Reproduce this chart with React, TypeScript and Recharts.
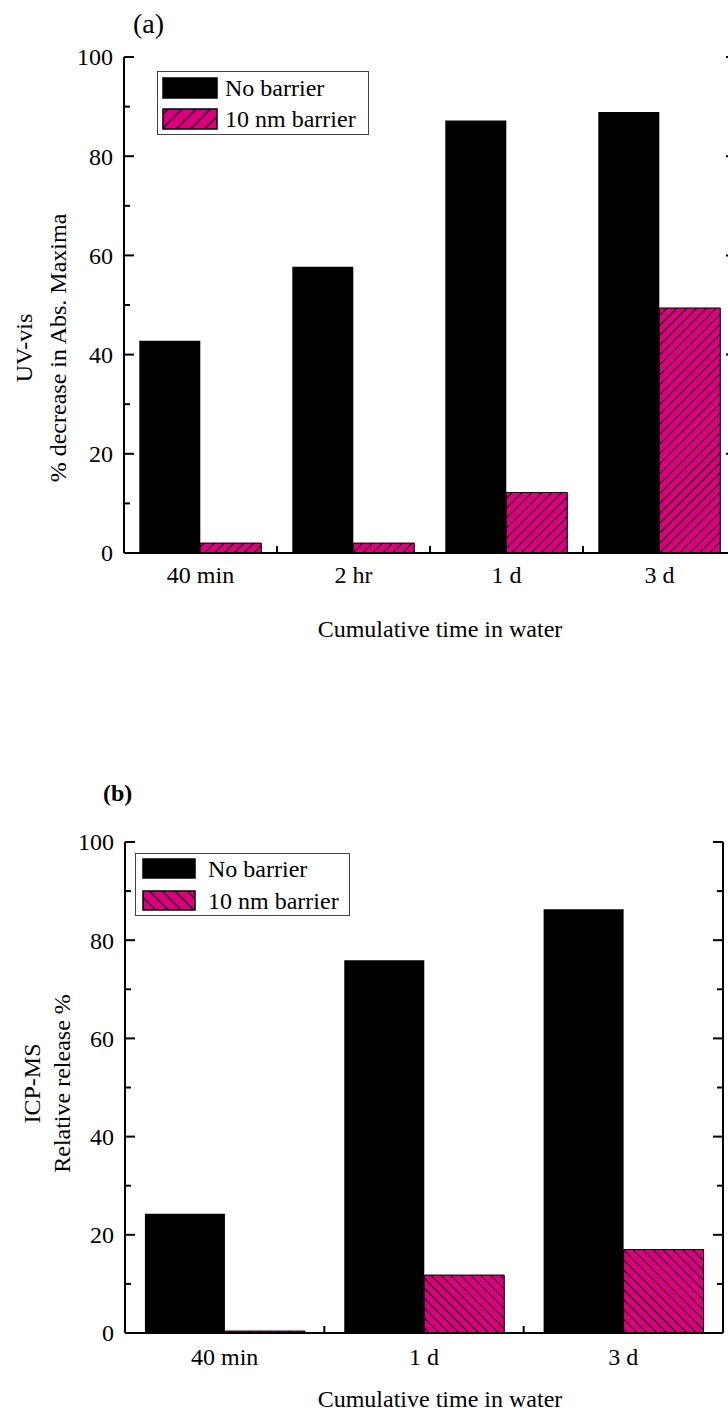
import React from 'react';
import { BarChart, Bar, XAxis, YAxis, Legend, Label } from 'recharts';

const FONT = '"Liberation Serif", "Times New Roman", Times, serif';
const PINK = '#DC0080';

// ---------- Panel (a): UV-vis ----------
const categoriesA = ['40 min', '2 hr', '1 d', '3 d'];
const noBarrierA = [42.8, 57.7, 87.2, 88.9];
const barrierA = [2.0, 2.0, 12.2, 49.4];

// ---------- Panel (b): ICP-MS ----------
const categoriesB = ['40 min', '1 d', '3 d'];
const noBarrierB = [24.3, 75.9, 86.3];
const barrierB = [0.4, 11.8, 17.0];

const seriesKeys = ['noBarrier', 'barrier'];
const seriesNames = ['No barrier', '10 nm barrier'];
const yTicks = [0, 10, 20, 30, 40, 50, 60, 70, 80, 90, 100];
const yDomain = [0, 100];
const yMajorStep = 20;
const topTicks = [1, 2, 3, 4, 5, 6, 7, 8, 9, 10];
const topDomain = [0, 10];
const xTitle = 'Cumulative time in water';
const yTitleA = ['UV-vis', '% decrease in Abs. Maxima'];
const yTitleB = ['ICP-MS', 'Relative release %'];

const dataA = categoriesA.map((cat, i) => ({ cat, noBarrier: noBarrierA[i], barrier: barrierA[i] }));
const dataB = categoriesB.map((cat, i) => ({ cat, noBarrier: noBarrierB[i], barrier: barrierB[i] }));

const LeftTick = (props: any) => {
  const { x, y, payload } = props;
  const major = payload.value % yMajorStep === 0;
  return (
    <g>
      <line x1={x} x2={x + (major ? 10 : 6)} y1={y} y2={y} stroke="#000" strokeWidth={2} />
      {major && (
        <text x={x - 11} y={y} dy="0.35em" textAnchor="end" fontFamily={FONT} fontSize={24} fill="#000">
          {payload.value}
        </text>
      )}
    </g>
  );
};

const RightTick = (props: any) => {
  const { x, y, payload } = props;
  const major = payload.value % yMajorStep === 0;
  return <line x1={x} x2={x - (major ? 10 : 6)} y1={y} y2={y} stroke="#000" strokeWidth={2} />;
};

const TopTick = (props: any) => {
  const { x, y, payload } = props;
  const major = payload.value % 2 === 0;
  return <line x1={x} x2={x} y1={y} y2={y + (major ? 10 : 6)} stroke="#000" strokeWidth={2} />;
};

const BottomTick = (props: any) => {
  const { x, y, payload, index, n, labelBaseline, width } = props;
  const half = payload && payload.offset != null ? payload.offset : width / n / 2;
  return (
    <g>
      <text x={x} y={y + labelBaseline} textAnchor="middle" fontFamily={FONT} fontSize={24} fill="#000">
        {payload.value}
      </text>
      {index < n - 1 && <line x1={x + half} x2={x + half} y1={y} y2={y - 7} stroke="#000" strokeWidth={2} />}
    </g>
  );
};

const YTitle = (props: any) => {
  const { viewBox, lines, xs, shift } = props;
  const vb = viewBox || { x: 0, y: 0, width: 0, height: 0 };
  const cy = vb.y + vb.height / 2 + shift;
  return (
    <g>
      {lines.map((t: string, i: number) => (
        <text
          key={i}
          x={vb.x + xs[i]}
          y={cy}
          transform={`rotate(-90 ${vb.x + xs[i]} ${cy})`}
          textAnchor="middle"
          fontFamily={FONT}
          fontSize={24}
          fill="#000"
        >
          {t}
        </text>
      ))}
    </g>
  );
};

const XTitle = (props: any) => {
  const { viewBox, shift, baseline } = props;
  const vb = viewBox || { x: 0, y: 0, width: 0, height: 0 };
  return (
    <text x={vb.x + vb.width / 2 + shift} y={vb.y + baseline} textAnchor="middle" fontFamily={FONT} fontSize={24} fill="#000">
      {xTitle}
    </text>
  );
};

const makeLegend = (cfg: any) => (props: any) => {
  const payload: any[] = props.payload || [];
  return (
    <div
      style={{
        position: 'relative',
        width: cfg.w,
        height: cfg.h,
        border: '1px solid #444',
        boxSizing: 'border-box',
        background: '#fff',
        fontFamily: FONT,
        fontSize: 24,
        color: '#000',
      }}
    >
      {seriesKeys.map((key, i) => {
        const entry = payload.find((p: any) => p && p.dataKey === key);
        const label = (entry && entry.value) || seriesNames[i];
        const pid = `${cfg.id}-leg`;
        return (
          <div
            key={key}
            style={{
              position: 'absolute',
              left: cfg.padL,
              top: cfg.padT + i * cfg.pitch,
              height: cfg.swH,
              display: 'flex',
              alignItems: 'center',
            }}
          >
            <svg width={cfg.swW} height={cfg.swH} style={{ display: 'block' }}>
              <defs>
                <pattern
                  id={pid}
                  patternUnits="userSpaceOnUse"
                  width={cfg.legSpacing}
                  height={cfg.legSpacing}
                  patternTransform={`rotate(${cfg.angle})`}
                >
                  <rect width={cfg.legSpacing} height={cfg.legSpacing} fill={PINK} />
                  <line x1={cfg.legSpacing / 2} x2={cfg.legSpacing / 2} y1={0} y2={cfg.legSpacing} stroke="#000" strokeWidth={1.2} />
                </pattern>
              </defs>
              <rect
                x={1}
                y={1}
                width={cfg.swW - 2}
                height={cfg.swH - 2}
                fill={i === 0 ? '#000' : `url(#${pid})`}
                stroke="#000"
                strokeWidth={1.5}
              />
            </svg>
            <span style={{ marginLeft: cfg.gap, lineHeight: 1, whiteSpace: 'nowrap' }}>{label}</span>
          </div>
        );
      })}
    </div>
  );
};

function Panel({ cfg }: { cfg: any }) {
  const n = cfg.data.length;
  const axisLine = { stroke: '#000', strokeWidth: 2 };
  return (
    <BarChart
      width={cfg.width}
      height={cfg.height}
      data={cfg.data}
      margin={{ top: cfg.top, right: 0, bottom: 0, left: 0 }}
      barCategoryGap="10%"
      barGap={0}
    >
      <defs>
        <pattern
          id={cfg.id}
          patternUnits="userSpaceOnUse"
          width={cfg.spacing}
          height={cfg.spacing}
          patternTransform={`rotate(${cfg.angle})`}
        >
          <rect width={cfg.spacing} height={cfg.spacing} fill={PINK} />
          <line x1={cfg.spacing / 2} x2={cfg.spacing / 2} y1={0} y2={cfg.spacing} stroke="#000" strokeWidth={1} />
        </pattern>
      </defs>
      <XAxis
        xAxisId="bottom"
        dataKey="cat"
        type="category"
        height={cfg.xAxisH}
        interval={0}
        tickSize={0}
        tickMargin={0}
        tickLine={false}
        axisLine={axisLine}
        tick={<BottomTick n={n} labelBaseline={cfg.tickBaseline} />}
      >
        <Label content={(p: any) => <XTitle {...p} shift={cfg.xTitleShift} baseline={cfg.xTitleBaseline} />} />
      </XAxis>
      <XAxis
        xAxisId="top"
        orientation="top"
        type="number"
        domain={topDomain}
        ticks={topTicks}
        allowDataOverflow
        height={0}
        interval={0}
        tickSize={0}
        tickMargin={0}
        tickLine={false}
        axisLine={axisLine}
        tick={<TopTick />}
      />
      <YAxis
        yAxisId="left"
        type="number"
        domain={yDomain}
        ticks={yTicks}
        width={cfg.leftW}
        interval={0}
        tickSize={0}
        tickMargin={0}
        tickLine={false}
        axisLine={axisLine}
        tick={<LeftTick />}
      >
        <Label content={(p: any) => <YTitle {...p} lines={cfg.yTitle} xs={cfg.yTitleXs} shift={cfg.yTitleShift} />} />
      </YAxis>
      <YAxis
        yAxisId="right"
        orientation="right"
        type="number"
        domain={yDomain}
        ticks={yTicks}
        allowDataOverflow
        width={cfg.rightW}
        interval={0}
        tickSize={0}
        tickMargin={0}
        tickLine={false}
        axisLine={axisLine}
        tick={<RightTick />}
      />
      <Legend
        layout="horizontal"
        verticalAlign="middle"
        align="center"
        content={makeLegend(cfg.legend)}
        wrapperStyle={{ position: 'absolute', left: cfg.legend.left, top: cfg.legend.top, width: cfg.legend.w, height: cfg.legend.h, margin: 0, padding: 0 }}
      />
      <Bar
        xAxisId="bottom"
        yAxisId="left"
        dataKey="noBarrier"
        name={seriesNames[0]}
        fill="#000"
        isAnimationActive={false}
      />
      <Bar
        xAxisId="bottom"
        yAxisId="left"
        dataKey="barrier"
        name={seriesNames[1]}
        fill={`url(#${cfg.id})`}
        stroke="#000"
        strokeWidth={1}
        isAnimationActive={false}
      />
    </BarChart>
  );
}

const cfgA = {
  id: 'hatchA',
  data: dataA,
  width: 760,
  height: 660,
  top: 57,
  leftW: 124,
  rightW: 24,
  xAxisH: 107,
  spacing: 7,
  angle: 45,
  tickBaseline: 30,
  xTitleShift: 10,
  xTitleBaseline: 84,
  yTitle: yTitleA,
  yTitleXs: [32, 66],
  yTitleShift: 43,
  legend: { id: 'hatchA', left: 157, top: 71, w: 212, h: 64, padL: 4, padT: 5, pitch: 31, swW: 56, swH: 22, gap: 7, legSpacing: 10, angle: 45 },
};

const cfgB = {
  id: 'hatchB',
  data: dataB,
  width: 728,
  height: 652,
  top: 82,
  leftW: 125,
  rightW: 5,
  xAxisH: 79,
  spacing: 7,
  angle: -45,
  tickBaseline: 32,
  xTitleShift: 16,
  xTitleBaseline: 74,
  yTitle: yTitleB,
  yTitleXs: [40, 70],
  yTitleShift: -4,
  legend: { id: 'hatchB', left: 135, top: 93, w: 215, h: 63, padL: 6, padT: 4, pitch: 32, swW: 54, swH: 21, gap: 12, legSpacing: 9, angle: -45 },
};

export default function App() {
  return (
    <div style={{ position: 'absolute', left: 0, top: 0, width: 728, height: 1412, overflow: 'hidden', background: '#fff' }}>
      <div style={{ position: 'absolute', left: 0, top: 0 }}>
        <Panel cfg={cfgA} />
      </div>
      <div style={{ position: 'absolute', left: 0, top: 760 }}>
        <Panel cfg={cfgB} />
      </div>
      <svg width={728} height={1412} style={{ position: 'absolute', left: 0, top: 0, pointerEvents: 'none' }}>
        <text x={133} y={33} fontFamily={FONT} fontSize={28} fill="#000">(a)</text>
        <text x={103} y={801} fontFamily={FONT} fontSize={24} fontWeight="bold" fill="#000">(b)</text>
      </svg>
    </div>
  );
}
